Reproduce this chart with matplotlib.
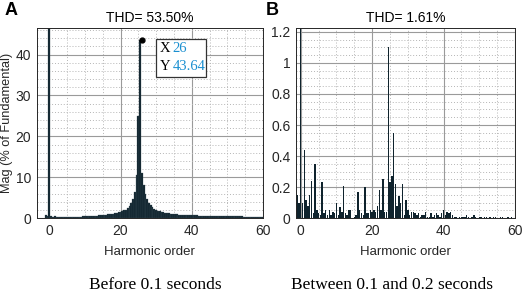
import numpy as np
import matplotlib.pyplot as plt
from matplotlib.ticker import MultipleLocator
from matplotlib.patches import Rectangle

# harmonic spectrum before 0.1 s, bins every 0.5 harmonic starting at -1
a_mag = [0.8, 0.5, 100, 0.6, 0.4, 0.5, 0.3, 0.4, 0.3, 0.3,
         0.3, 0.3, 0.35, 0.3, 0.35, 0.35, 0.35, 0.35, 0.4, 0.4,
         0.4, 0.45, 0.45, 0.45, 0.5, 0.5, 0.55, 0.55, 0.6, 0.6,
         0.65, 0.7, 0.75, 0.8, 0.85, 0.9, 0.95, 1.05, 1.1, 1.2,
         1.3, 1.4, 1.55, 1.7, 1.9, 2.1, 2.5, 3.0, 3.7, 4.8,
         6.5, 10.5, 25.0, 43.64, 11.0, 8.0, 6.0, 4.8, 3.8, 3.1,
         2.7, 2.3, 2.05, 1.8, 1.65, 1.5, 1.4, 1.3, 1.2, 1.15,
         1.1, 1.0, 0.97, 0.94, 0.9, 0.87, 0.84, 0.8, 0.78, 0.76,
         0.75, 0.73, 0.71, 0.7, 0.68, 0.66, 0.64, 0.62, 0.61, 0.6,
         0.59, 0.57, 0.56, 0.55, 0.53, 0.52, 0.51, 0.5, 0.49, 0.48,
         0.47, 0.46, 0.45, 0.45, 0.44, 0.43, 0.43, 0.42, 0.42, 0.41,
         0.41, 0.4, 0.4, 0.39, 0.39, 0.39, 0.38, 0.38, 0.38, 0.38,
         0.37, 0.37, 0.37]

# harmonic spectrum between 0.1 and 0.2 s
b_mag = [0.15, 0.10, 100, 0.10, 0.44, 0.12, 0.08, 0.15, 0.24, 0.03,
         0.35, 0.05, 0.03, 0.02, 0.23, 0.03, 0.05, 0.02, 0.05, 0.02,
         0.04, 0.03, 0.10, 0.02, 0.07, 0.04, 0.21, 0.03, 0.02, 0.05,
         0.05, 0.00, 0.01, 0.02, 0.17, 0.05, 0.03, 0.02, 0.20, 0.03,
         0.03, 0.05, 0.04, 0.05, 0.04, 0.08, 0.18, 0.05, 0.25, 0.04,
         0.04, 1.10, 0.23, 0.27, 0.55, 0.22, 0.08, 0.14, 0.10, 0.22,
         0.02, 0.12, 0.05, 0.02, 0.04, 0.04, 0.03, 0.02, 0.03, 0.01,
         0.02, 0.02, 0.04, 0.01, 0.01, 0.03, 0.01, 0.02, 0.03, 0.02,
         0.01, 0.03, 0.05, 0.02, 0.04, 0.03, 0.04, 0.02, 0.01, 0.005,
         0.004, 0.006, 0.005, 0.01, 0.006, 0.02, 0.005, 0.004, 0.006, 0.02,
         0.005, 0.004, 0.008, 0.006, 0.004, 0.01, 0.005, 0.003, 0.006, 0.004,
         0.01, 0.005, 0.004, 0.003, 0.006, 0.005, 0.004, 0.003, 0.005, 0.004,
         0.006, 0.003, 0.004]

a_order = -1 + 0.5 * np.arange(len(a_mag))
b_order = -1 + 0.5 * np.arange(len(b_mag))

tip_x = 26
tip_y = 43.64

bar_col = '#0f232d'
txt_col = '#262626'
tip_blue = '#1a8fd0'

plt.rcParams['font.family'] = ['Liberation Sans', 'DejaVu Sans']

fig = plt.figure(figsize=(5.26, 2.98), dpi=100)
ax1 = fig.add_axes([0.070, 0.268, 0.430, 0.638])
ax2 = fig.add_axes([0.563, 0.268, 0.416, 0.638])


def style(ax, xlim, ylim, ymaj, ymin):
    ax.set_xlim(*xlim)
    ax.set_ylim(*ylim)
    ax.xaxis.set_major_locator(MultipleLocator(20))
    ax.xaxis.set_minor_locator(MultipleLocator(5))
    ax.yaxis.set_major_locator(MultipleLocator(ymaj))
    ax.yaxis.set_minor_locator(MultipleLocator(ymin))
    ax.grid(which='major', color='#9a9a9a', lw=0.8, ls='-')
    ax.grid(which='minor', color='#b5b5b5', lw=0.7, ls=(0, (1, 2)))
    ax.set_axisbelow(True)
    ax.tick_params(which='both', direction='in', length=0, labelsize=10,
                   colors=txt_col, pad=4)
    for s in ax.spines.values():
        s.set_color(txt_col)
        s.set_linewidth(0.7)
    ax.set_xlabel('Harmonic order', fontsize=9.5, color=txt_col, labelpad=6)


ax1.bar(a_order, a_mag, width=0.5, color=bar_col, edgecolor='#3a4f5a', lw=0.2)
ax1.plot([tip_x], [tip_y], 'o', color='black', ms=3.5, zorder=5)
style(ax1, (-3.5, 60), (0, 46.5), 10, 2)
ax1.set_ylabel('Mag (% of Fundamental)', fontsize=9.2, color=txt_col, labelpad=2)
ax1.set_title('THD= 53.50%', fontsize=10, color='black', pad=4)

# data tip box
ax1.add_patch(Rectangle((30.0, 34.4), 14.0, 9.5, fc='white', ec='#333333',
                        lw=0.9, zorder=6))
tip_font = dict(fontsize=10.5, family='Liberation Serif', va='center',
                ha='left', zorder=8)
ax1.text(31.0, 41.6, 'X', color='black', **tip_font)
ax1.text(34.6, 41.6, str(tip_x), color=tip_blue, **tip_font)
ax1.text(31.0, 37.0, 'Y', color='black', **tip_font)
ax1.text(34.6, 37.0, f'{tip_y:.2f}', color=tip_blue, **tip_font)

ax2.bar(b_order, b_mag, width=0.4, color=bar_col, lw=0)
style(ax2, (-1.3, 60), (0, 1.225), 0.2, 0.05)
ax2.set_yticks([0, 0.2, 0.4, 0.6, 0.8, 1.0, 1.2])
ax2.set_yticklabels(['0', '0.2', '0.4', '0.6', '0.8', '1', '1.2'])
ax2.set_title('THD= 1.61%', fontsize=10, color='black', pad=4)

fig.text(0.008, 0.965, 'A', fontsize=13, fontweight='bold', va='center')
fig.text(0.506, 0.965, 'B', fontsize=13, fontweight='bold', va='center')

fig.text(0.295, 0.045, 'Before 0.1 seconds', fontsize=12.5,
         family='Liberation Serif', ha='center', va='center')
fig.text(0.745, 0.045, 'Between 0.1 and 0.2 seconds', fontsize=12.5,
         family='Liberation Serif', ha='center', va='center')

fig.savefig('out.png', dpi=100)
